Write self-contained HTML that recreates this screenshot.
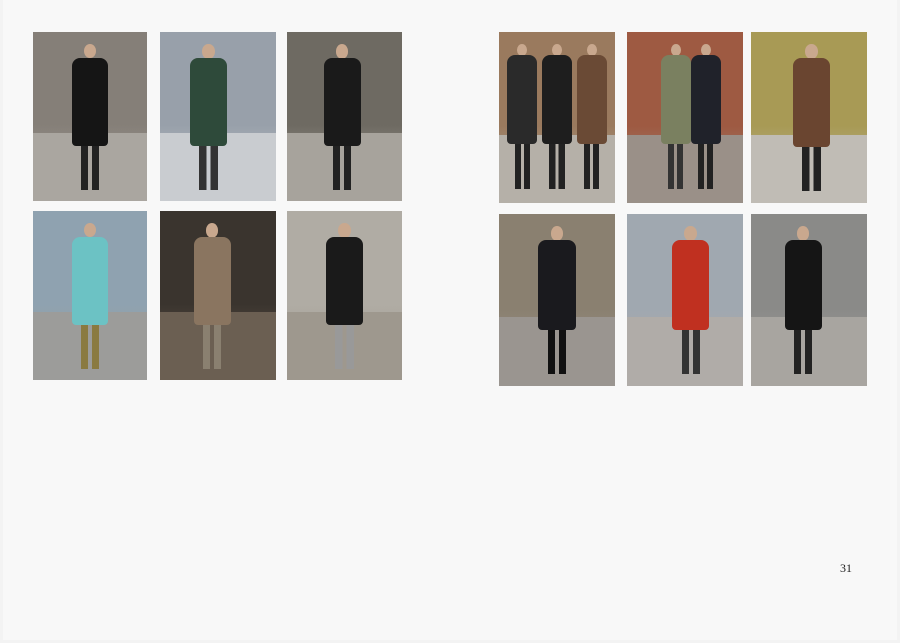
<!DOCTYPE html>
<html><head><meta charset="utf-8"><style>
html,body{margin:0;padding:0;width:900px;height:643px;overflow:hidden;background:#f3f3f3;}
#page{position:absolute;left:3px;top:0;width:894px;height:640px;background:#f8f8f8;}
.photo{position:absolute;overflow:hidden;}
.bg{position:absolute;left:0;top:0;width:100%;height:100%;}
.ground{position:absolute;left:0;bottom:0;width:100%;height:40%;}
.head{position:absolute;border-radius:50%;background:#c9a88e;}
.coat{position:absolute;border-radius:8px 8px 4px 4px;}
.legs{position:absolute;}
#pnum{position:absolute;left:840px;top:561px;font-family:"Liberation Serif",serif;font-size:12px;color:#222;}
</style></head><body>
<div id="page"></div>
<div id="photos"></div>
<div id="pnum">31</div>
<script>
const photos=[
 [33,32,114,169,'#857f78','#aaa6a0',[['#151515',0.5,'#222']]],
 [160,32,116,169,'#98a0aa','#c9ccd0',[['#2e4a3a',0.42,'#333']]],
 [287,32,115,169,'#6e6a62','#a7a39c',[['#1a1a1a',0.48,'#222']]],
 [33,211,114,169,'#8fa2b0','#9c9c9a',[['#6cc2c4',0.5,'#8a7a40']]],
 [160,211,116,169,'#3a342e','#6b5f52',[['#8a7560',0.45,'#8a8070']]],
 [287,211,115,169,'#b0aca4','#9e988e',[['#1a1a1a',0.5,'#999']]],
 [499,32,116,171,'#9a7a5e','#b5b0a8',[['#2a2a2a',0.2,'#222'],['#1e1e1e',0.5,'#222'],['#6a4a35',0.8,'#222']]],
 [627,32,116,171,'#9e5a42','#9a9088',[['#7a8060',0.42,'#333'],['#20222a',0.68,'#222']]],
 [751,32,116,171,'#a89a55','#c0bcb5',[['#6a4530',0.52,'#222']]],
 [499,214,116,172,'#8a8070','#9a9590',[['#1a1a1e',0.5,'#111']]],
 [627,214,116,172,'#a0a8b0','#b0aca8',[['#c03020',0.55,'#333']]],
 [751,214,116,172,'#8a8a88','#a8a5a0',[['#151515',0.45,'#222']]]
];
const host=document.getElementById('photos');
photos.forEach((p,i)=>{
 const [x,y,w,h,bg,gr,figs]=p;
 const d=document.createElement('div');d.className='photo';
 
 
 d.style.cssText=`left:${x}px;top:${y}px;width:${w}px;height:${h}px;`;
 d.innerHTML=`<div class="bg" style="background:linear-gradient(${bg},${bg} 55%,${gr})"></div><div class="ground" style="background:${gr}"></div>`;
 const fw=figs.length>1?w*0.26:w*0.32;
 figs.forEach(f=>{
  const cx=w*f[1];
  const top=h*0.07;
  const head=document.createElement('div');head.className='head';
  head.style.cssText=`left:${cx-fw*0.17}px;top:${top}px;width:${fw*0.34}px;height:${fw*0.4}px;`;
  const coat=document.createElement('div');coat.className='coat';
  coat.style.cssText=`left:${cx-fw/2}px;top:${top+fw*0.38}px;width:${fw}px;height:${h*0.52}px;background:${f[0]};`;
  const legs=document.createElement('div');legs.className='legs';
  legs.style.cssText=`left:${cx-fw*0.25}px;top:${top+fw*0.38+h*0.52}px;width:${fw*0.5}px;height:${h*0.26}px;background:linear-gradient(90deg,${f[2]} 40%,transparent 40%,transparent 60%,${f[2]} 60%);`;
  d.appendChild(head);d.appendChild(coat);d.appendChild(legs);
 });
 host.appendChild(d);
});
</script>
</body></html>
